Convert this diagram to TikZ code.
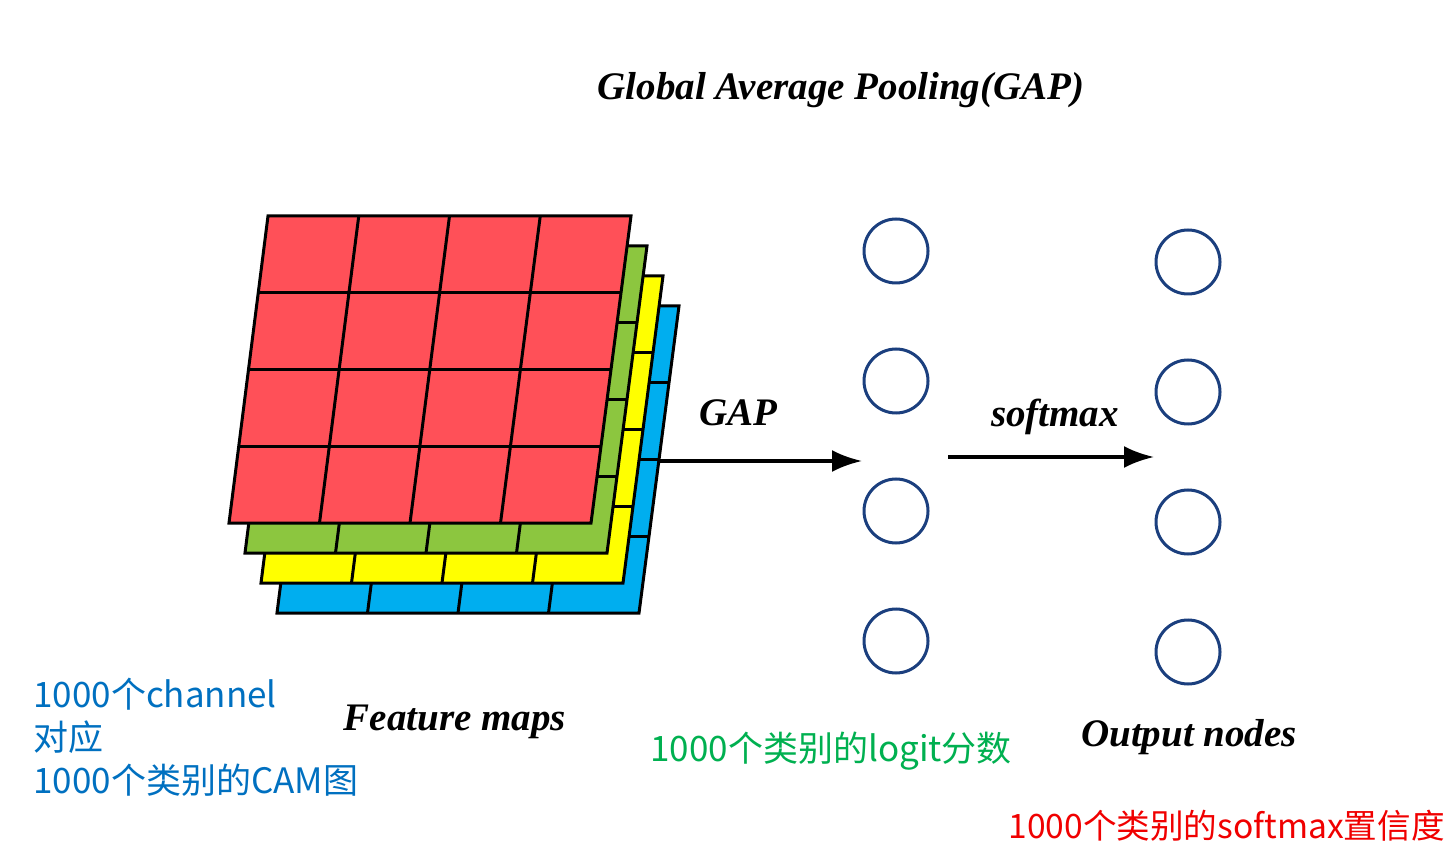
\documentclass[tikz,border=0pt]{standalone}
\usepackage{fontspec}
\setmainfont{Liberation Serif}
\newfontfamily\cjk{Noto Sans CJK SC}
\usepackage{xcolor}
\usetikzlibrary{arrows.meta, positioning}

\definecolor{mapred}{HTML}{FF5058}
\definecolor{mapgreen}{HTML}{8CC63F}
\definecolor{mapyellow}{HTML}{FFFF00}
\definecolor{mapblue}{HTML}{00AEEF}
\definecolor{nodeblue}{HTML}{1B3F7E}
\definecolor{noteblue}{HTML}{0070C0}
\definecolor{notegreen}{HTML}{00B050}
\definecolor{notered}{HTML}{F00000}

\begin{document}
\begin{tikzpicture}[>={Latex[length=15pt,width=11pt]}, x=0.5pt, y=-0.5pt,
    map/.style={draw=black, line width=1.5pt},
    neuron/.style={circle, draw=nodeblue, line width=1.5pt, minimum size=32pt, inner sep=0pt},
    flow/.style={->, line width=1.8pt},
    label/.style={font=\fontsize{19.5}{22}\selectfont\bfseries\itshape, inner sep=0pt},
    note/.style={font=\cjk\fontsize{17.5}{21.5}\selectfont, inner sep=0pt, align=left}]
    \useasboundingbox (0,0) rectangle (1455,849);

    % 1. Feature maps (back to front)
    \foreach \col/\dx/\dy in {mapblue/48/90, mapyellow/32/60, mapgreen/16/30, mapred/0/0} {
        \begin{scope}[shift={(\dx,\dy)}]
            \filldraw[map, fill=\col] (268,216) -- (631,216) -- (591,523) -- (229,523) -- cycle;
            \foreach \k in {1,2,3} {
                \draw[map] ({268+90.75*\k},216) -- ({229+90.5*\k},523);
                \draw[map] ({268-9.75*\k},{216+76.75*\k}) -- ({631-10*\k},{216+76.75*\k});
            }
        \end{scope}
    }

    % 2. Neurons
    \foreach \i in {1,...,4} {
        \node[neuron] (logit\i) at (896,{121+130*\i}) {};
        \node[neuron] (out\i) at (1188,{132+130*\i}) {};
    }

    % 3. Arrows
    \coordinate (gapstart) at (658,461);
    \coordinate (gapend) at (862,461);
    \coordinate (smstart) at (948,457);
    \coordinate (smend) at (1154,457);
    \draw[flow] (gapstart) -- (gapend);
    \draw[flow] (smstart) -- (smend);

    % 4. Labels
    \node[label] (title) at (841,90) {Global Average Pooling(GAP)};
    \node[label] (gaplabel) at (738,413) {GAP};
    \node[label] (smlabel) at (1055,417) {softmax};
    \node[label] (fmaps) at (455,722) {Feature maps};
    \node[label] (outnodes) at (1189,737) {Output nodes};

    % 5. Notes
    \node[note, text=noteblue, anchor=west] (camnote) at (33,737)
        {1000个channel\\对应\\1000个类别的CAM图};
    \node[note, text=notegreen, anchor=west] (logitnote) at (650,751) {1000个类别的logit分数};
    \node[note, text=notered, anchor=west, font=\cjk\fontsize{16.8}{20}\selectfont] (softnote) at (1008,826) {1000个类别的softmax置信度};
\end{tikzpicture}
\end{document}
